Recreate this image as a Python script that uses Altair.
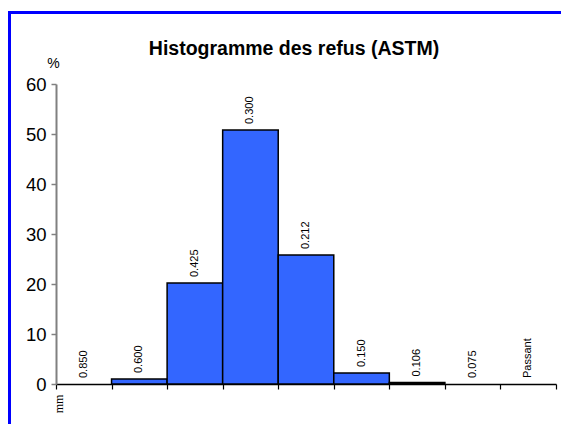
import altair as alt
import pandas as pd

# data
sizes = ["0.850", "0.600", "0.425", "0.300", "0.212", "0.150", "0.106", "0.075", "Passant"]
refus = [0.0, 1.0, 20.2, 50.8, 25.8, 2.2, 0.3, 0.0, 0.0]
y_ticks = [0, 10, 20, 30, 40, 50, 60]
chart_title = ["Histogramme des refus (ASTM)"]

df = pd.DataFrame({
    "size": sizes,
    "value": refus,
    "x0": list(range(len(sizes))),
    "x1": [i + 1 for i in range(len(sizes))],
    "mid": [i + 0.5 for i in range(len(sizes))],
})
x_ticks = list(range(len(sizes) + 1))

FONT = "Liberation Sans"

xscale = alt.Scale(domain=[0, len(sizes)], nice=False, zero=False)
yscale = alt.Scale(domain=[0, 60], nice=False)

xaxis = alt.Axis(
    values=x_ticks, labels=False, grid=False,
    domainColor="black", domainWidth=1.5, tickColor="black", tickWidth=1.2, tickSize=5,
    title="mm", titleFont="Liberation Serif", titleFontSize=12, titleFontWeight="normal",
    titleAngle=270, titleAlign="center", titleBaseline="middle", titleX=2.5, titleY=19.5,
)
yaxis = alt.Axis(
    values=y_ticks, grid=False,
    domainColor="#808080", domainWidth=2, tickColor="#808080", tickWidth=1.5, tickSize=5,
    labelFont=FONT, labelFontSize=18.5, labelColor="black", labelPadding=5,
    title="%", titleFont=FONT, titleFontSize=14, titleFontWeight="normal",
    titleAngle=0, titleAlign="center", titleBaseline="middle", titleX=-3, titleY=-21,
)

base = alt.Chart(df)

bars = base.transform_filter("datum.value > 0").mark_bar(
    color="#3366FF", stroke="black", strokeWidth=1.5
).encode(
    x=alt.X("x0:Q", scale=xscale, axis=xaxis),
    x2="x1:Q",
    y=alt.Y("value:Q", scale=yscale, axis=yaxis),
    y2=alt.datum(0),
)

labels = base.mark_text(
    angle=270, align="left", baseline="middle", dx=6, font=FONT, fontSize=11, color="black"
).encode(
    x=alt.X("mid:Q", scale=xscale),
    y=alt.Y("value:Q", scale=yscale),
    text="size:N",
)

one = alt.Data(values=[{}])
frame_top = alt.Chart(one).mark_rule(color="#0000FF", strokeWidth=3).encode(
    x=alt.value(-48), x2=alt.value(505), y=alt.value(-71.5)
)
frame_left = alt.Chart(one).mark_rule(color="#0000FF", strokeWidth=3).encode(
    x=alt.value(-46.5), y=alt.value(-73), y2=alt.value(340)
)

title_text = alt.Chart(alt.Data(values=[{"t": t} for t in chart_title])).mark_text(
    font=FONT, fontSize=19.5, fontWeight="bold", color="black",
    align="center", baseline="alphabetic",
).encode(
    x=alt.value(238), y=alt.value(-29), text="t:N"
)

chart = alt.layer(bars, labels, frame_top, frame_left, title_text).properties(
    width=500,
    height=300,
    autosize=alt.AutoSizeParams(type="none"),
    padding={"left": 48, "top": 76, "right": 5, "bottom": 40},
).configure(background="white", view=alt.ViewConfig(stroke=None))

chart.save("out.html", embed_options={"renderer": "svg", "actions": False})
